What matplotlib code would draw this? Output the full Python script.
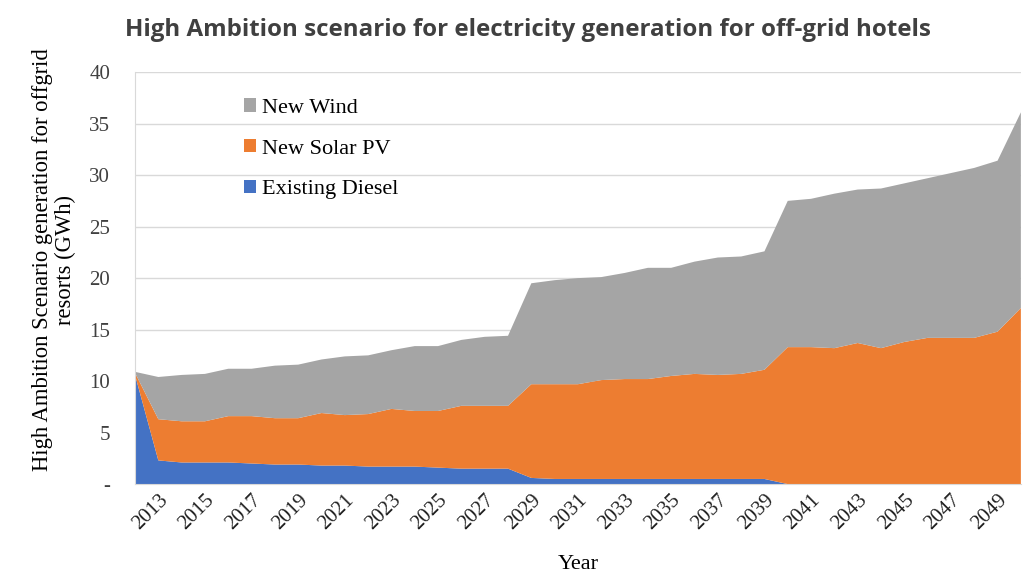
import matplotlib.pyplot as plt
import numpy as np

# data (GWh)
years = list(range(2012, 2051))
diesel = [10.6, 2.3, 2.1, 2.1, 2.1, 2.0, 1.9, 1.9, 1.8, 1.8, 1.7, 1.7, 1.7, 1.6, 1.5, 1.5, 1.5, 0.6,
          0.5, 0.5, 0.5, 0.5, 0.5, 0.5, 0.5, 0.5, 0.5, 0.5,
          0, 0, 0, 0, 0, 0, 0, 0, 0, 0, 0]
solar = [0.2, 4.0, 4.0, 4.0, 4.5, 4.6, 4.5, 4.5, 5.1, 4.9, 5.1, 5.6, 5.4, 5.5, 6.1, 6.1, 6.1, 9.1,
         9.2, 9.2, 9.6, 9.7, 9.7, 10.0, 10.2, 10.1, 10.2, 10.6,
         13.3, 13.3, 13.2, 13.7, 13.2, 13.8, 14.2, 14.2, 14.2, 14.8, 17.1]
wind = [0.1, 4.1, 4.5, 4.6, 4.6, 4.6, 5.1, 5.2, 5.2, 5.7, 5.7, 5.7, 6.3, 6.3, 6.4, 6.7, 6.8, 9.8,
        10.1, 10.3, 10.0, 10.3, 10.8, 10.5, 10.9, 11.4, 11.4, 11.5,
        14.2, 14.4, 15.0, 14.9, 15.5, 15.4, 15.5, 16.0, 16.5, 16.6, 19.0]
labels = ['Existing Diesel', 'New Solar PV', 'New Wind']
colors = ['#4472C4', '#ED7D31', '#A5A5A5']

serif = 'Liberation Serif'

fig = plt.figure(figsize=(10.26, 5.77), dpi=100)
ax = fig.add_axes([0.1316, 0.161, 0.8634, 0.714])

ax.stackplot(years, diesel, solar, wind, colors=colors, labels=labels, zorder=2)

ax.set_xlim(2012, 2050)
ax.set_ylim(0, 40)
ax.set_yticks(np.arange(0, 41, 5))
ax.set_yticklabels(['-'] + [str(v) for v in range(5, 41, 5)], fontfamily=serif, fontsize=15)
ax.set_xticks(years[1::2])
ax.set_xticklabels([str(y) for y in years[1::2]], rotation=45, ha='right',
                   rotation_mode='anchor', fontfamily=serif, fontsize=15)
ax.tick_params(axis='y', length=0, pad=18, colors='#404040')
ax.tick_params(axis='x', length=0, pad=5, colors='#222222')

ax.grid(axis='y', color='#d9d9d9', linewidth=1, zorder=0)
ax.set_axisbelow(True)
for s in ['top', 'right']:
    ax.spines[s].set_visible(False)
ax.spines['left'].set_color('#d9d9d9')
ax.spines['bottom'].set_color('#d9d9d9')

ax.set_xlabel('Year', fontfamily=serif, fontsize=16, labelpad=15)
ax.set_ylabel('High Ambition Scenario generation for offgrid\nresorts (GWh)',
              fontfamily=serif, fontsize=16.3, linespacing=1.1)
ax.yaxis.set_label_coords(-0.067, 0.545)

handles, labs = ax.get_legend_handles_labels()
leg = ax.legend(handles[::-1], labs[::-1], loc='upper left', bbox_to_anchor=(0.1, 0.985),
                frameon=False, prop={'family': serif, 'size': 16},
                handlelength=0.55, handleheight=0.55, handletextpad=0.3, labelspacing=0.95)

fig.text(0.122, 0.948, 'High Ambition scenario for electricity generation for off-grid hotels',
         fontfamily='Open Sans', fontweight='bold', fontsize=17.4, color='#404040', va='center')

fig.savefig('out.png', dpi=100)
